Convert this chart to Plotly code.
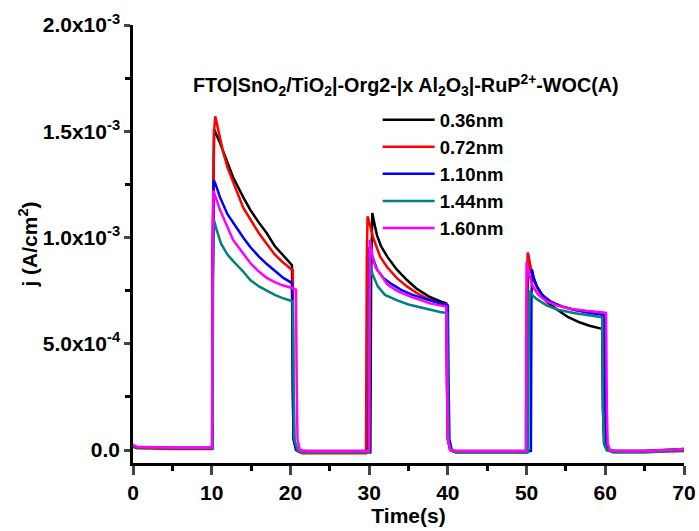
import plotly.graph_objects as go

# ---- data (j in units of 1e-3 A/cm^2, time in s) ----
labels = ["0.36nm", "0.72nm", "1.10nm", "1.44nm", "1.60nm"]
colors = ["#000000", "#FF0000", "#0000FF", "#008080", "#FF00FF"]

t_036 = [0, 0.5, 5, 9.9, 10.05, 10.1, 10.3, 11, 12, 12.7, 14, 14.9, 16, 17, 18, 19, 20.0, 20.2,
         20.3, 20.4, 20.7, 21.2, 25, 30.15, 30.25, 30.4, 30.7, 31.0, 31.5, 32.3, 33.5, 34.8, 36, 37.7,
         39, 39.8, 39.9, 40.0, 40.3, 41, 45, 50.0, 50.1, 50.2, 50.5, 51.3, 52.5, 53.9, 55.3, 56.8, 58,
         59.3, 59.6, 59.7, 59.85, 60.2, 61, 65, 70]
j_036 = [0.02, 0.012, 0.01, 0.01, 0.01, 0.9, 1.51, 1.45, 1.35, 1.285, 1.19, 1.13, 1.07, 1.02, 0.96, 0.92, 0.88, 0.87,
         0.3, 0.05, 0.0, -0.01, -0.01, -0.01, 0.8, 1.115, 1.06, 1.01, 0.96, 0.91, 0.85, 0.80, 0.76, 0.72,
         0.70, 0.69, 0.3, 0.05, 0.0, -0.01, -0.01, -0.01, 0.7, 0.92, 0.85, 0.77, 0.70, 0.66, 0.625, 0.60, 0.585,
         0.575, 0.57, 0.2, 0.03, 0.0, -0.005, -0.005, 0.005]

t_072 = [0, 0.5, 5, 9.9, 10.05, 10.15, 10.3, 10.45, 10.7, 11.4, 12, 13, 14, 15, 16, 17, 18, 19, 20.0, 20.3,
         20.4, 20.5, 20.8, 21.5, 25, 29.6, 29.7, 29.8, 30.1, 30.5, 31.4, 32.3, 33.5, 34.8, 36, 37.7, 39, 39.8,
         39.9, 40.0, 40.3, 41, 45, 50.0, 50.05, 50.15, 50.4, 51, 51.7, 52.5, 53.5, 54.6, 56, 58, 59.7,
         59.8, 59.95, 60.3, 61, 65, 70]
j_072 = [0.015, 0.008, 0.005, 0.005, 0.005, 1.0, 1.5, 1.57, 1.53, 1.41, 1.33, 1.23, 1.14, 1.08, 1.02, 0.97, 0.92, 0.885, 0.855, 0.845,
         0.3, 0.05, 0.0, -0.015, -0.015, -0.015, 0.9, 1.10, 1.06, 1.0, 0.91, 0.86, 0.81, 0.77, 0.74, 0.705, 0.69, 0.685,
         0.3, 0.05, 0.0, -0.01, -0.01, -0.01, 0.7, 0.93, 0.88, 0.79, 0.74, 0.71, 0.69, 0.675, 0.66, 0.65, 0.645,
         0.2, 0.03, 0.0, -0.01, -0.01, -0.005]

t_110 = [0, 0.5, 5, 9.9, 10.1, 10.15, 10.25, 10.5, 11.05, 12, 12.7, 14, 14.9, 16, 17, 18, 19.1, 20.0, 20.2,
         20.3, 20.4, 20.8, 21.5, 25, 29.9, 29.97, 30.05, 30.3, 31.0, 31.8, 32.7, 34, 35.5, 37.7, 39, 40.0,
         40.1, 40.2, 40.5, 41, 45, 50.55, 50.62, 50.7, 50.9, 51.3, 52, 53, 54.5, 56, 58, 59.9,
         60.0, 60.1, 60.4, 61, 65, 70]
j_110 = [0.02, 0.012, 0.01, 0.01, 0.01, 0.8, 1.27, 1.25, 1.19, 1.11, 1.07, 1.0, 0.955, 0.91, 0.875, 0.845, 0.81, 0.79, 0.785,
         0.3, 0.05, 0.0, -0.005, -0.005, -0.005, 0.7, 0.955, 0.92, 0.85, 0.81, 0.785, 0.755, 0.73, 0.705, 0.69, 0.68,
         0.3, 0.05, 0.0, -0.005, -0.005, -0.005, 0.7, 0.85, 0.81, 0.77, 0.73, 0.70, 0.675, 0.66, 0.645, 0.635,
         0.2, 0.03, 0.0, -0.005, -0.005, 0.0]

t_144 = [0, 0.5, 5, 9.9, 10.1, 10.15, 10.3, 10.6, 11.2, 12, 12.7, 14, 14.9, 16, 17, 18, 19, 20.0, 20.3,
         20.4, 20.5, 20.9, 21.5, 25, 30.0, 30.08, 30.15, 30.4, 30.8, 31.1, 32, 33.5, 35, 37.7, 39, 39.9,
         40.0, 40.1, 40.4, 41, 45, 50.2, 50.28, 50.4, 50.7, 51.3, 52.6, 54, 56, 58, 59.6,
         59.7, 59.85, 60.2, 61, 65, 70]
j_144 = [0.02, 0.012, 0.01, 0.01, 0.01, 0.8, 1.08, 1.04, 0.97, 0.92, 0.89, 0.84, 0.80, 0.77, 0.75, 0.73, 0.715, 0.705, 0.70,
         0.3, 0.05, 0.0, -0.01, -0.01, -0.01, 0.7, 0.88, 0.83, 0.79, 0.77, 0.73, 0.705, 0.685, 0.66, 0.65, 0.645,
         0.25, 0.04, 0.0, -0.01, -0.01, -0.01, 0.6, 0.75, 0.73, 0.71, 0.68, 0.66, 0.645, 0.635, 0.625,
         0.2, 0.03, 0.0, -0.01, -0.01, 0.0]

t_160 = [0, 0.5, 5, 9.9, 10.05, 10.1, 10.2, 10.5, 11.05, 12, 12.7, 14, 14.9, 16, 17, 18, 19, 20.0, 20.7,
         20.8, 20.9, 21.2, 22, 25, 30.0, 30.05, 30.1, 30.4, 30.8, 31.4, 32.3, 33.5, 35, 37.7, 39, 39.8,
         39.9, 40.0, 40.3, 41, 45, 49.9, 49.95, 50.0, 50.3, 50.8, 51.5, 52.5, 53.9, 55.5, 57.5, 60.1,
         60.2, 60.3, 60.6, 61.5, 65, 70]
j_160 = [0.025, 0.015, 0.012, 0.012, 0.012, 0.8, 1.22, 1.19, 1.13, 1.05, 0.99, 0.925, 0.88, 0.84, 0.81, 0.79, 0.775, 0.765, 0.755,
         0.3, 0.05, 0.0, -0.005, -0.005, -0.005, 0.7, 0.99, 0.92, 0.86, 0.83, 0.78, 0.75, 0.725, 0.69, 0.68, 0.675,
         0.3, 0.05, 0.0, -0.005, -0.005, -0.005, 0.6, 0.885, 0.83, 0.77, 0.73, 0.70, 0.68, 0.665, 0.655, 0.645,
         0.2, 0.03, 0.0, -0.005, -0.005, 0.005]

series_t = [t_036, t_072, t_110, t_144, t_160]
series_j = [j_036, j_072, j_110, j_144, j_160]

y_tickvals = [0, 5e-4, 1e-3, 1.5e-3, 2e-3]
y_ticktext = ["0.0", "5.0x10<sup>-4</sup>", "1.0x10<sup>-3</sup>", "1.5x10<sup>-3</sup>", "2.0x10<sup>-3</sup>"]
x_tickvals = [0, 10, 20, 30, 40, 50, 60, 70]

title_text = ("FTO|SnO<sub>2</sub>/TiO<sub>2</sub>|-Org2-|x Al<sub>2</sub>O<sub>3</sub>|"
              "-RuP<sup>2+</sup>-WOC(A)")

FONT = "Liberation Sans, Arial, sans-serif"

fig = go.Figure()
for lab, col, ts, js in zip(labels, colors, series_t, series_j):
    fig.add_trace(go.Scatter(x=ts, y=[v * 1e-3 for v in js], mode="lines", name=lab,
                             line=dict(color=col, width=2.5)))

fig.update_layout(
    width=699, height=531,
    margin=dict(l=133, r=15, t=25, b=68, autoexpand=False),
    paper_bgcolor="white", plot_bgcolor="white",
    font=dict(family=FONT, color="black"),
    showlegend=True,
    legend=dict(x=0.444, y=0.826, xanchor="left", yanchor="top",
                bgcolor="rgba(0,0,0,0)", tracegroupgap=0,
                font=dict(family=FONT, size=18.5, weight="bold", color="black"),
                itemwidth=52),
    annotations=[dict(text=title_text, xref="paper", yref="paper", x=0.496, y=0.863,
                      xanchor="center", yanchor="middle", showarrow=False,
                      font=dict(family=FONT, size=19.8, weight="bold", color="black"))],
)

fig.update_xaxes(range=[0, 70], tickvals=x_tickvals, ticks="outside", ticklen=9, tickwidth=2.5,
                 automargin=False,
                 showline=True, linewidth=2.5, linecolor="black", showgrid=False, zeroline=False,
                 tickfont=dict(family=FONT, size=21, weight="bold"),
                 minor=dict(dtick=5, ticks="outside", ticklen=5, tickwidth=2.5, tickcolor="black"),
                 title=dict(text="Time(s)", font=dict(family=FONT, size=21, weight="bold"), standoff=1))
fig.update_yaxes(range=[-0.061e-3, 2.0e-3], tickvals=y_tickvals, ticktext=y_ticktext,
                 automargin=False,
                 ticks="outside", ticklen=6, tickwidth=2.5,
                 showline=True, linewidth=2.5, linecolor="black", showgrid=False, zeroline=False,
                 tickfont=dict(family=FONT, size=21, weight="bold"),
                 minor=dict(dtick=2.5e-4, tick0=0, ticks="outside", ticklen=5, tickwidth=2.5, tickcolor="black"),
                 title=dict(text="j (A/cm<sup>2</sup>)", font=dict(family=FONT, size=21, weight="bold"), standoff=0))

fig.write_html("out.html")
